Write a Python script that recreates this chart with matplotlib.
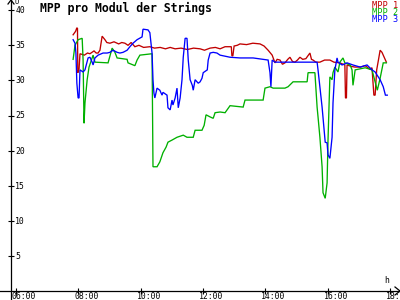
import matplotlib
matplotlib.use('Agg')
import matplotlib.pyplot as plt
from matplotlib.lines import Line2D

# ---- data (time in hours, voltage in V) ----
mpp1_t = [7.84, 7.92, 7.96, 7.98, 7.99, 8.03, 8.06, 8.20, 8.30, 8.38, 8.51, 8.58, 8.64, 8.70, 8.77,
          8.86, 8.92, 9.02, 9.15, 9.30, 9.40, 9.50, 9.60, 9.70, 9.82, 9.95, 10.10, 10.30, 10.45,
          10.63, 10.80, 10.95, 11.11, 11.30, 11.50, 11.70, 11.91, 12.05, 12.23, 12.40, 12.55,
          12.71, 12.91, 12.93, 12.96, 13.00, 13.10, 13.19, 13.40, 13.60, 13.83, 13.96, 14.09,
          14.22, 14.31, 14.38, 14.47, 14.55, 14.63, 14.72, 14.79, 14.87, 14.95, 15.03, 15.11,
          15.20, 15.30, 15.43, 15.48, 15.53, 15.62, 15.75, 15.90, 16.07, 16.20, 16.39, 16.55,
          16.57, 16.60, 16.62, 16.75, 16.87, 17.05, 17.20, 17.35, 17.42, 17.48, 17.52, 17.57,
          17.63, 17.68, 17.74, 17.78, 17.88]
mpp1_v = [36.5, 37.0, 37.5, 37.4, 31.1, 31.6, 33.8, 33.6, 33.9, 33.8, 34.2, 33.9, 33.9, 34.3, 36.3,
          35.8, 35.4, 35.3, 35.5, 35.2, 35.4, 35.3, 35.0, 35.4, 34.8, 35.0, 34.7, 34.8, 34.6,
          34.7, 34.5, 34.7, 34.5, 34.6, 34.4, 34.6, 34.5, 34.3, 34.6, 34.7, 34.5,
          34.8, 34.8, 33.5, 33.5, 34.9, 35.0, 35.2, 35.1, 35.3, 35.2, 34.9, 34.3,
          33.6, 32.5, 33.0, 32.9, 32.3, 32.5, 33.0, 33.3, 32.7, 32.6, 32.9, 33.3,
          33.0, 33.1, 33.9, 33.0, 32.9, 32.6, 32.6, 32.9, 32.9, 32.6, 32.5, 32.2,
          27.5, 27.5, 32.2, 32.0, 31.9, 31.9, 32.1, 31.6, 31.8, 27.9, 27.9, 31.5,
          33.0, 34.3, 34.0, 33.6, 32.6]

mpp2_t = [7.84, 7.90, 8.00, 8.13, 8.16, 8.19, 8.22, 8.29, 8.35, 8.45, 8.48, 8.54, 8.96, 9.09, 9.18,
          9.25, 9.57, 9.60, 9.82, 9.89, 9.98, 10.37, 10.40, 10.53, 10.62, 10.72, 10.82, 10.88,
          11.01, 11.17, 11.37, 11.49, 11.69, 11.75, 11.97, 12.04, 12.10, 12.23, 12.33, 12.39,
          12.55, 12.71, 12.87, 13.29, 13.35, 13.93, 13.99, 14.15, 14.25, 14.63, 14.73, 14.89,
          15.34, 15.37, 15.59, 15.66, 15.69, 15.75, 15.82, 15.85, 15.92, 15.98, 16.01, 16.07,
          16.14, 16.17, 16.23, 16.33, 16.39, 16.49, 16.55, 16.72, 16.78, 16.81, 16.88, 17.20,
          17.42, 17.59, 17.68, 17.78, 17.88]
mpp2_v = [33.0, 35.0, 35.8, 36.0, 32.9, 23.9, 26.8, 30.1, 31.9, 33.2, 33.6, 32.6, 32.5, 34.6, 34.0,
          33.2, 33.0, 32.5, 32.1, 32.9, 33.6, 33.8, 17.7, 17.7, 18.4, 19.7, 20.5, 21.2,
          21.5, 21.9, 22.2, 21.9, 21.9, 22.9, 22.9, 23.6, 25.1, 24.8, 24.6, 25.4,
          25.5, 25.4, 26.4, 26.2, 27.2, 27.2, 28.9, 29.1, 28.9, 28.9, 29.1, 29.8,
          29.8, 31.1, 31.1, 26.2, 24.8, 21.9, 17.7, 14.0, 13.2, 15.4, 21.5, 30.5,
          30.1, 31.1, 31.9, 31.2, 32.6, 33.2, 32.5, 32.2, 31.5, 29.3, 31.5, 31.8,
          31.5, 28.6, 30.3, 32.5, 32.5]

mpp3_t = [7.84, 7.90, 7.93, 7.96, 8.00, 8.03, 8.06, 8.16, 8.22, 8.32, 8.38, 8.45, 8.48, 8.54, 8.64,
          8.80, 8.93, 9.02, 9.12, 9.25, 9.34, 9.44, 9.57, 9.66, 9.76, 9.89, 10.05, 10.08, 10.24,
          10.30, 10.37, 10.40, 10.43, 10.46, 10.53, 10.62, 10.69, 10.72, 10.85, 10.88, 10.95,
          11.01, 11.04, 11.11, 11.17, 11.21, 11.27, 11.33, 11.37, 11.43, 11.49, 11.53, 11.59,
          11.66, 11.69, 11.75, 11.85, 11.91, 11.97, 12.01, 12.14, 12.17, 12.23, 12.33, 12.45,
          12.55, 12.87, 13.19, 13.61, 14.09, 14.15, 14.18, 14.22, 14.31, 14.70, 15.34, 15.66,
          15.69, 15.82, 15.92, 15.98, 16.01, 16.07, 16.14, 16.17, 16.23, 16.30, 16.33, 16.46,
          16.62, 16.81, 17.04, 17.26, 17.42, 17.52, 17.62, 17.68, 17.78, 17.85, 17.91]
mpp3_v = [35.8, 35.3, 33.9, 29.6, 27.5, 27.5, 31.5, 31.2, 31.5, 33.2, 33.3, 32.6, 32.2, 33.2, 33.6,
          33.9, 33.9, 34.0, 34.3, 34.0, 33.9, 34.0, 34.3, 34.8, 35.3, 35.8, 36.2, 37.3, 37.2,
          36.8, 33.9, 30.1, 28.2, 27.5, 28.9, 28.6, 27.9, 28.3, 27.9, 26.1, 25.8,
          27.2, 26.5, 27.5, 28.9, 26.1, 27.5, 30.1, 33.3, 36.0, 36.0, 32.9, 30.1,
          29.3, 28.6, 30.1, 29.6, 29.8, 30.3, 31.1, 31.5, 32.9, 33.9, 34.0, 33.9,
          33.6, 33.3, 33.2, 33.2, 32.9, 31.1, 29.1, 32.9, 32.6, 32.6, 32.6, 32.6,
          31.5, 26.2, 21.2, 21.1, 19.4, 18.9, 21.9, 26.8, 31.5, 33.2, 32.6, 32.2,
          32.5, 32.2, 31.9, 32.2, 31.5, 31.2, 30.5, 30.1, 29.1, 27.9, 27.9]

series_names = ['MPP 1', 'MPP 2', 'MPP 3']
series_colors = ['#c00000', '#00b000', '#0000ff']

ytick_vals = [5, 10, 15, 20, 25, 30, 35, 40]
xtick_hours = [6, 8, 10, 12, 14, 16, 18]
xtick_labels = ['06:00', '08:00', '10:00', '12:00', '14:00', '16:00', '18:00']
title = 'MPP pro Modul der Strings'

W, H = 400, 300
MONO = 'DejaVu Sans Mono'

fig = plt.figure(figsize=(4, 3), dpi=100)
fig.patch.set_facecolor('white')
ax = fig.add_axes([11 / W, 9 / H, 384 / W, 289 / H])
ax.set_facecolor('white')
ax.set_xlim(5.849, 18.157)
ax.set_ylim(0, 41.17)
for s in ax.spines.values():
    s.set_visible(False)

for t, v, c in zip([mpp1_t, mpp2_t, mpp3_t], [mpp1_v, mpp2_v, mpp3_v], series_colors):
    ax.plot(t, v, color=c, lw=0.95, solid_joinstyle='miter')

ax.set_xticks(xtick_hours)
ax.set_yticks(ytick_vals)
ax.tick_params(direction='inout', length=4.5, width=0.8, color='black',
               labelleft=False, labelbottom=False)

for v in ytick_vals:
    ax.annotate(str(v), xy=(0, v), xycoords=('axes fraction', 'data'),
                xytext=(3.0, -0.3), textcoords='offset points', ha='left', va='center',
                family=MONO, fontsize=5.9)
for h, lab in zip(xtick_hours, xtick_labels):
    ax.annotate(lab, xy=(h, 0), xycoords=('data', 'axes fraction'),
                xytext=(-2.9, -0.6), textcoords='offset points', ha='left', va='top',
                family=MONO, fontsize=5.9)

def px(x, y):
    return (x / W, 1 - y / H)

def fline(p1, p2, lw=0.9):
    (x1, y1), (x2, y2) = px(*p1), px(*p2)
    fig.add_artist(Line2D([x1, x2], [y1, y2], color='black', lw=lw,
                          transform=fig.transFigure))

# axes lines with arrows
fline((11, 0), (11, 300))
fline((0, 291), (400, 291))
fline((11, 0), (8, 4))
fline((11, 0), (14, 4))
fline((400, 291), (395, 287))
fline((400, 291), (395, 295))

fig.text(*px(14, -1.5), 'U', family=MONO, fontsize=5.0, ha='left', va='top')
fig.text(*px(384, 276), 'h', family=MONO, fontsize=5.9, ha='left', va='top')

fig.text(*px(40, 1.5), title, family=MONO, fontweight='bold', fontsize=8.3,
         ha='left', va='top')

for i, (name, c) in enumerate(zip(series_names, series_colors)):
    fig.text(*px(398, 0.5 + 7.5 * i), name, family=MONO, fontsize=6.2, color=c,
             ha='right', va='top')

fig.savefig('out.png', dpi=100, facecolor='white')
